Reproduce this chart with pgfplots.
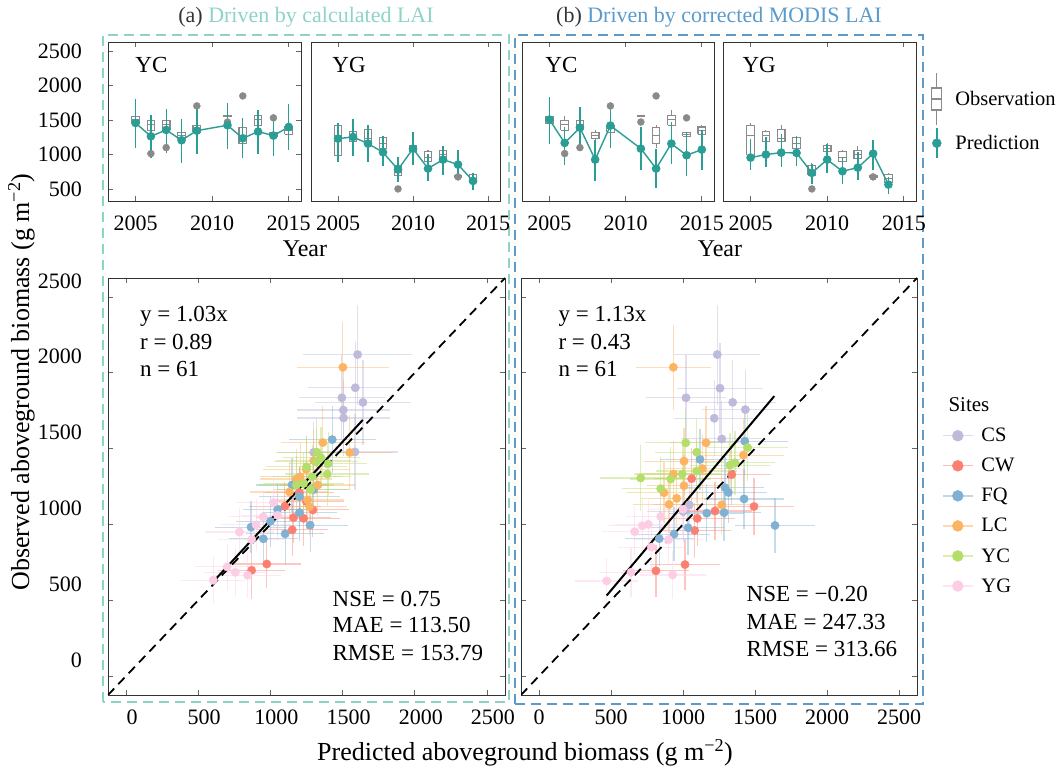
\documentclass[border=0pt]{standalone}
\usepackage{fontspec}
\setmainfont{Liberation Serif}
\usepackage{pgfplots}
\pgfplotsset{compat=1.18}
\usepackage{pgfplotstable}

\definecolor{cs}{HTML}{BEBADA}
\definecolor{cw}{HTML}{FB8072}
\definecolor{fq}{HTML}{80B1D3}
\definecolor{lc}{HTML}{FDB462}
\definecolor{yc}{HTML}{B3DE69}
\definecolor{yg}{HTML}{FCCDE5}
\definecolor{pred}{HTML}{2A9D94}
\definecolor{obsg}{HTML}{8A8A8A}
\definecolor{boxa}{HTML}{8ED3C7}
\definecolor{boxb}{HTML}{5A9BCB}

\newcommand{\tfs}{\fontsize{22bp}{26bp}\selectfont}
\newcommand{\afs}{\fontsize{23bp}{27bp}\selectfont}
\newcommand{\lfs}{\fontsize{20.5bp}{24bp}\selectfont}
\newcommand{\yfs}{\fontsize{24bp}{28bp}\selectfont}
\newcommand{\Lfs}{\fontsize{26bp}{30bp}\selectfont}

\pgfplotsset{
  base/.style={scale only axis, anchor=south west,
    axis line style={black!80, line width=0.8bp},
    tick align=inside, major tick length=5bp,
    tick style={black!60, line width=0.8bp},
    ticklabel style={font=\tfs},
    /pgf/number format/assume math mode=true,
    /pgf/number format/1000 sep={},
    xticklabel style={anchor=north, inner sep=0pt, yshift=-15bp},
  },
  % x axis of the small panels: years counted from 2000
  top/.style={base, width=193bp, height=159bp,
    xmin=3.2, xmax=15.8, ymin=325, ymax=2630,
    xtick={5,10,15}, xticklabels={2005,2010,2015}, ytick=\empty},
  sc/.style={base, width=397bp, height=417bp,
    xmin=-125, xmax=2625, ymin=-125, ymax=2625,
    xtick={0,500,1000,1500,2000,2500}, ytick={0,500,1000,1500,2000,2500}},
  obsw/.style={obsg, line width=1.1bp, solid, mark=none, forget plot},
  obsb/.style={draw=obsg, fill=white, line width=1.1bp, solid, mark=none, forget plot},
  outl/.style={only marks, mark=*, mark size=3.5bp, color=obsg, forget plot},
  predl/.style={pred, line width=1.4bp, mark=*, mark size=3.6bp, mark options={solid, fill=pred}, forget plot,
    error bars/.cd, y dir=both, y explicit, error mark=none, error bar style={line width=1.4bp, pred}},
  sitept/.style={only marks, mark=*, mark size=4.2bp, color=#1, forget plot,
    error bars/.cd, x dir=both, x explicit, y dir=both, y explicit, error mark=none,
    error bar style={color=#1, opacity=0.45, line width=1.2bp}},
  siteleg/.style={legend image code/.code={
      \draw[line width=1.3bp, opacity=0.5] (0bp,0bp) -- (30bp,0bp);
      \fill (15bp,0bp) circle (5.5bp);}},
  oneone/.style={black, line width=1.8bp, dash pattern=on 9bp off 6bp, forget plot},
  regl/.style={black, line width=2bp, forget plot},
}

% box: #1 left, #2 right, #3 centre, #4 lower whisker, #5 lower quartile, #6 median, #7 upper quartile, #8 upper whisker
\newcommand{\ob}[8]{%
  \addplot[obsw] coordinates {(#3,#4) (#3,#8)};
  \addplot[obsb] coordinates {(#1,#5) (#2,#5) (#2,#7) (#1,#7) (#1,#5)};
  \addplot[obsw] coordinates {(#1,#6) (#2,#6)};
}

% observation boxes (x = year - 2000)
\newcommand{\obsYC}{%
  \ob{4.75}{5.25}{5}{1420}{1447}{1500}{1553}{1580}
  \ob{5.75}{6.25}{6}{1300}{1350}{1440}{1495}{1560}
  \ob{6.75}{7.25}{7}{1300}{1360}{1430}{1495}{1550}
  \ob{7.75}{8.25}{8}{1190}{1229}{1280}{1321}{1350}
  \ob{8.75}{9.25}{9}{1290}{1321}{1370}{1418}{1450}
  \ob{10.75}{11.25}{11}{1540}{1545}{1553}{1560}{1565}
  \ob{11.75}{12.25}{12}{1100}{1157}{1270}{1389}{1420}
  \ob{12.75}{13.25}{13}{1400}{1423}{1500}{1567}{1640}
  \ob{13.75}{14.25}{14}{1240}{1260}{1290}{1320}{1330}
  \ob{14.75}{15.25}{15}{1270}{1292}{1350}{1398}{1420}
  \addplot[outl] coordinates {(6,1012) (7,1099) (9,1703) (11,1470) (12,1848) (14,1530)};
}
\newcommand{\obsYG}{%
  \ob{4.75}{5.25}{5}{900}{990}{1270}{1420}{1460}
  \ob{5.75}{6.25}{6}{1150}{1181}{1270}{1326}{1360}
  \ob{6.75}{7.25}{7}{1150}{1181}{1230}{1360}{1420}
  \ob{7.75}{8.25}{8}{1060}{1084}{1160}{1244}{1270}
  \ob{8.75}{9.25}{9}{650}{698}{770}{843}{870}
  \ob{9.75}{10.25}{10}{1020}{1036}{1090}{1133}{1160}
  \ob{10.75}{11.25}{11}{880}{891}{960}{1036}{1060}
  \ob{11.75}{12.25}{12}{930}{940}{1000}{1051}{1120}
  \ob{12.75}{13.25}{13}{665}{668}{680}{690}{700}
  \ob{13.75}{14.25}{14}{570}{587}{650}{713}{730}
  \addplot[outl] coordinates {(9,500) (13,674)};
}

\pgfplotstableread{
yr y lo hi
5 1456 1099 1800
6 1263 954 1567
7 1355 1022 1664
8 1205 877 1514
9 1345 1002 1659
11 1423 1084 1746
12 1234 949 1524
13 1331 1012 1640
14 1273 973 1582
15 1398 1070 1727
}\predaYC
\pgfplotstableread{
yr y lo hi
5 1229 891 1456
6 1253 973 1519
7 1157 891 1422
8 1031 828 1263
9 780 601 964
10 1084 843 1326
11 795 616 1012
12 925 698 1118
13 853 674 1060
14 616 481 732
}\predaYG
\pgfplotstableread{
yr y lo hi
5 1505 1157 1833
6 1167 853 1398
7 1389 1060 1688
8 925 616 1205
9 1418 1099 1712
11 1084 770 1398
12 795 519 1084
13 1157 857 1471
14 988 688 1326
15 1070 770 1350
}\predbYC
\pgfplotstableread{
yr y lo hi
5 954 770 1229
6 998 819 1253
7 1026 819 1302
8 1022 828 1253
9 732 577 867
10 925 732 1157
11 756 568 964
12 809 635 1036
13 1012 770 1215
14 563 432 674
}\predbYG

\newcommand{\predplot}[1]{\addplot[predl] table[x=yr, y=y, y error plus expr=\thisrow{hi}-\thisrow{y}, y error minus expr=\thisrow{y}-\thisrow{lo}] {#1};}

\begin{document}
\begin{tikzpicture}
\path[use as bounding box] (0,0) rectangle (1061bp,771bp);

% dashed frames
\draw[boxa, line width=2.5bp, dash pattern=on 10bp off 6bp] (103bp,69bp) rectangle (509bp,736bp);
\draw[boxb, line width=2.5bp, dash pattern=on 10bp off 6bp] (515bp,67bp) rectangle (923bp,736bp);

% titles
\node[anchor=base, font=\tfs, text=black!80] at (306bp,748bp) {(a) \textcolor{boxa}{Driven by calculated LAI}};
\node[anchor=base, font=\tfs, text=black!80] at (719bp,748bp) {(b) \textcolor{boxb}{Driven by corrected MODIS LAI}};

% ---------- top panels (a)
\begin{axis}[top, at={(108bp,570bp)}, ytick={500,1000,1500,2000,2500},
  yticklabel style={anchor=east, inner sep=0pt, xshift=-26bp}]
\obsYC
\predplot{\predaYC}
\node[anchor=base west, font=\afs] at (rel axis cs:0.124,0.805) {YC};
\end{axis}
\begin{axis}[top, at={(311bp,570bp)}, width=189bp]
\obsYG
\predplot{\predaYG}
\node[anchor=base west, font=\afs] at (rel axis cs:0.095,0.805) {YG};
\end{axis}

% ---------- top panels (b)
\begin{axis}[top, at={(522bp,570bp)}, width=192bp]
\obsYC
\predplot{\predbYC}
\node[anchor=base west, font=\afs] at (rel axis cs:0.104,0.805) {YC};
\end{axis}
\begin{axis}[top, at={(723bp,570bp)},
  legend style={at={(1.078,0.81)}, anchor=north west, draw=none, fill=none, font=\lfs, inner sep=0pt, row sep=2bp,
    /tikz/every odd column/.append style={column sep=11bp}},
  legend cell align=left]
\obsYG
\predplot{\predbYG}
\node[anchor=base west, font=\afs] at (rel axis cs:0.083,0.805) {YG};
\addlegendimage{legend image code/.code={
  \draw[obsg, line width=1.1bp] (9bp,-26bp) -- (9bp,26bp);
  \filldraw[draw=obsg, fill=white, line width=1.1bp] (4bp,-11bp) rectangle (14bp,11bp);
  \draw[obsg, line width=1.1bp] (4bp,0bp) -- (14bp,0bp);}}
\addlegendentry{Observation}
\addlegendimage{legend image code/.code={
  \draw[pred, line width=1.4bp] (9bp,-15bp) -- (9bp,15bp);
  \fill[pred] (9bp,0bp) circle (4.5bp);}}
\addlegendentry{Prediction}
\end{axis}

\node[anchor=base, font=\yfs] at (305bp,514bp) {Year};
\node[anchor=base, font=\yfs] at (720bp,514bp) {Year};

% ---------- scatter (a)
\begin{axis}[sc, at={(108bp,76bp)},
  yticklabel style={anchor=east, inner sep=0pt, xshift=-26bp, yshift=16bp},
  xticklabel style={xshift=6bp}]
\addplot[sitept=cs] table[x=x, y=y, x error=ex, y error=ey] {
x y ex ey
1604 2120 380 330
1588 1901 330 300
1495 1835 300 280
1641 1805 330 280
1505 1754 320 260
1507 1702 320 250
1586 1478 300 250
1300 1475 250 200
};
\addplot[sitept=cw] table[x=x, y=y, x error=ex, y error=ey] {
x y ex ey
1294 1096 250 180
1160 1045 260 170
1151 964 250 170
975 739 240 160
870 697 230 190
1250 1150 260 180
1200 1210 240 170
1100 1120 250 160
1230 1040 250 180
};
\addplot[sitept=fq] table[x=x, y=y, x error=ex, y error=ey] {
x y ex ey
1428 1559 300 220
1201 1183 280 200
1201 1078 260 190
1275 995 260 180
1102 938 270 200
951 905 240 180
866 982 250 170
1150 1260 250 180
1050 1100 240 170
1300 1230 250 170
1000 1020 240 170
};
\addplot[sitept=lc] table[x=x, y=y, x error=ex, y error=ey] {
x y ex ey
1502 2036 320 300
1549 1474 300 250
1363 1540 290 240
1248 1362 300 220
1206 1314 280 220
1132 1214 270 200
1328 1260 260 200
1259 1161 250 190
1271 1117 260 190
1180 1300 250 200
1300 1420 260 200
};
\addplot[sitept=yc] table[x=x, y=y, x error=ex, y error=ey] {
x y ex ey
1322 1476 280 220
1317 1413 290 220
1394 1332 290 210
1289 1314 270 210
1250 1380 280 200
1350 1440 270 200
1230 1270 280 200
1280 1230 260 200
1180 1260 260 190
1400 1400 270 210
};
\addplot[sitept=yg] table[x=x, y=y, x error=ex, y error=ey] {
x y ex ey
1021 1144 250 180
785 950 240 160
901 997 240 170
757 684 220 160
842 665 230 150
604 632 220 150
950 1050 240 170
1050 1060 250 170
870 900 230 160
700 720 220 150
};
\addplot[oneone] coordinates {(-125,-125) (2625,2625)};
\addplot[regl] coordinates {(600,618) (1640,1689)};
\node[anchor=base west, font=\afs] at (rel axis cs:0.072,0.895) {y = 1.03x};
\node[anchor=base west, font=\afs] at (rel axis cs:0.072,0.829) {r = 0.89};
\node[anchor=base west, font=\afs] at (rel axis cs:0.072,0.763) {n = 61};
\node[anchor=base west, font=\afs] at (rel axis cs:0.557,0.213) {NSE = 0.75};
\node[anchor=base west, font=\afs] at (rel axis cs:0.557,0.149) {MAE = 113.50};
\node[anchor=base west, font=\afs] at (rel axis cs:0.557,0.082) {RMSE = 153.79};
\end{axis}

% ---------- scatter (b)
\begin{axis}[sc, at={(521bp,76bp)}, width=396bp, yticklabels={},
  legend style={at={(1.063,0.645)}, anchor=north west, draw=none, fill=none, font=\lfs, inner sep=0pt, row sep=11bp,
    /tikz/every odd column/.append style={column sep=6bp}},
  legend cell align=left]
\addplot[sitept=cs] table[x=x, y=y, x error=ex, y error=ey] {
x y ex ey
1238 2120 300 330
1257 1898 300 300
1021 1835 280 280
1345 1805 300 280
1433 1757 300 260
1217 1700 280 250
1269 1564 280 250
1044 1129 250 200
1002 1085 250 200
};
\addplot[sitept=cw] table[x=x, y=y, x error=ex, y error=ey] {
x y ex ey
1060 1302 260 200
1338 1328 270 200
1222 1088 260 190
1493 1118 280 190
1099 1040 260 180
1081 960 250 180
1014 735 240 170
812 694 230 170
};
\addplot[sitept=fq] table[x=x, y=y, x error=ex, y error=ey] {
x y ex ey
1429 1549 300 220
1118 1429 280 200
1292 1242 270 200
1315 1211 270 200
1424 1168 280 200
1285 1078 260 190
1165 1074 260 190
1035 978 250 180
938 936 250 180
835 906 240 180
1639 993 280 180
};
\addplot[sitept=lc] table[x=x, y=y, x error=ex, y error=ey] {
x y ex ey
933 2036 260 280
1160 1538 260 240
1007 1417 280 220
933 1332 270 220
1134 1368 260 220
1007 1255 260 200
868 1209 260 200
956 1172 250 190
903 1132 250 190
1419 1457 280 240
1269 1129 260 190
};
\addplot[sitept=yc] table[x=x, y=y, x error=ex, y error=ey] {
x y ex ey
1019 1538 280 220
1095 1476 290 220
706 1306 280 220
845 1236 270 210
915 1299 280 210
995 1332 270 210
1095 1352 280 210
1326 1391 280 210
1361 1406 280 210
1449 1507 280 220
};
\addplot[sitept=yg] table[x=x, y=y, x error=ex, y error=ey] {
x y ex ey
845 1052 240 170
717 991 240 170
664 952 230 160
639 684 220 160
928 667 230 160
470 627 220 150
760 1000 230 160
1000 1100 240 170
780 850 230 160
900 900 240 160
};
\addplot[oneone] coordinates {(-125,-125) (2625,2625)};
\addplot[regl] coordinates {(470,531) (1634,1846)};
\node[anchor=base west, font=\afs] at (rel axis cs:0.086,0.895) {y = 1.13x};
\node[anchor=base west, font=\afs] at (rel axis cs:0.086,0.829) {r = 0.43};
\node[anchor=base west, font=\afs] at (rel axis cs:0.086,0.763) {n = 61};
\node[anchor=base west, font=\afs] at (rel axis cs:0.561,0.224) {NSE = −0.20};
\node[anchor=base west, font=\afs] at (rel axis cs:0.561,0.158) {MAE = 247.33};
\node[anchor=base west, font=\afs] at (rel axis cs:0.561,0.092) {RMSE = 313.66};
\addlegendimage{siteleg, color=cs} \addlegendentry{CS}
\addlegendimage{siteleg, color=cw} \addlegendentry{CW}
\addlegendimage{siteleg, color=fq} \addlegendentry{FQ}
\addlegendimage{siteleg, color=lc} \addlegendentry{LC}
\addlegendimage{siteleg, color=yc} \addlegendentry{YC}
\addlegendimage{siteleg, color=yg} \addlegendentry{YG}
\end{axis}

\node[anchor=base west, font=\fontsize{21bp}{25bp}\selectfont] at (945bp,359bp) {Sites};

% axis titles
\node[anchor=base, rotate=90, font=\Lfs] at (29bp,389bp) {Observed aboveground biomass (g m\textsuperscript{−2})};
\node[anchor=base, font=\Lfs] at (525bp,11bp) {Predicted aboveground biomass (g m\textsuperscript{−2})};
\end{tikzpicture}
\end{document}
